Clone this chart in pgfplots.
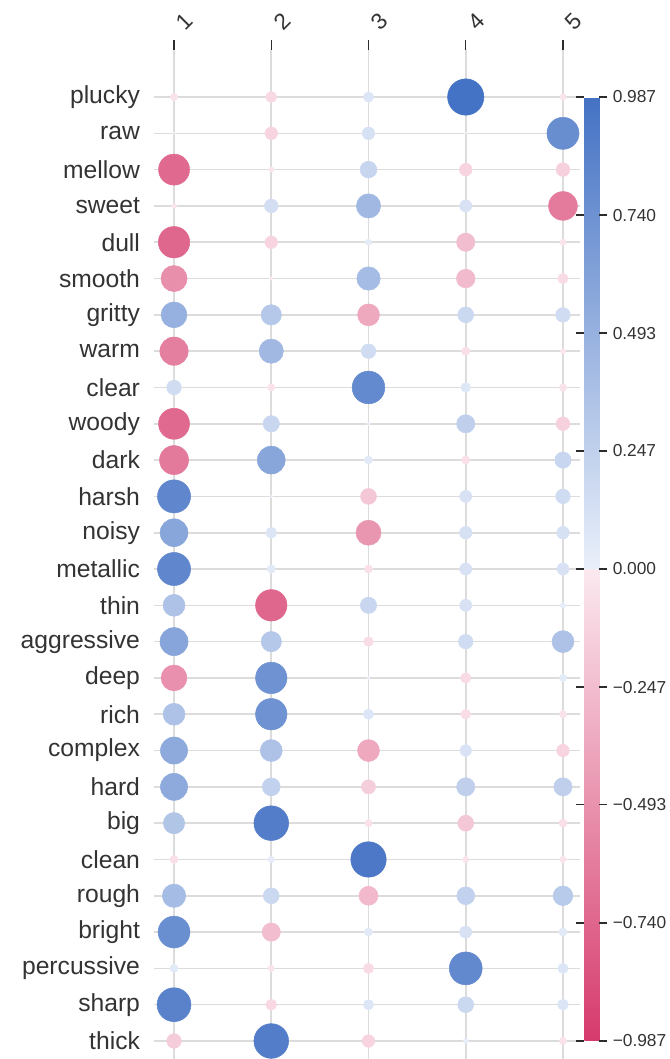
\documentclass[border=0pt]{standalone}
\usepackage{pgfplots}
\pgfplotsset{compat=1.18}
\usepackage{pgfplotstable}
\usepackage{fontspec}
\setmainfont{Liberation Sans}
\definecolor{lab}{RGB}{51,51,51}
\definecolor{gridc}{RGB}{220,220,220}
\definecolor{tickc}{RGB}{45,45,45}

\pgfplotstableread{
x y v
1 1 -0.04
2 1 -0.09
3 1 0.08
4 1 0.987
5 1 -0.03
1 2 0.003
2 2 -0.12
3 2 0.12
4 2 0.003
5 2 0.77
1 3 -0.72
2 3 -0.02
3 3 0.21
4 3 -0.12
5 3 -0.14
1 4 -0.02
2 4 0.14
3 4 0.44
4 4 0.11
5 4 -0.62
1 5 -0.74
2 5 -0.12
3 5 0.03
4 5 -0.25
5 5 -0.03
1 6 -0.51
2 6 -0.01
3 6 0.41
4 6 -0.26
5 6 -0.08
1 7 0.50
2 7 0.31
3 7 -0.36
4 7 0.19
5 7 0.16
1 8 -0.60
2 8 0.44
3 8 0.16
4 8 -0.05
5 8 -0.02
1 9 0.16
2 9 -0.04
3 9 0.80
4 9 0.07
5 9 -0.04
1 10 -0.72
2 10 0.20
3 10 0.01
4 10 0.25
5 10 -0.14
1 11 -0.63
2 11 0.58
3 11 0.05
4 11 -0.05
5 11 0.20
1 12 0.82
2 12 0.005
3 12 -0.19
4 12 0.11
5 12 0.16
1 13 0.58
2 13 0.09
3 13 -0.47
4 13 0.12
5 13 0.12
1 14 0.82
2 14 0.05
3 14 -0.05
4 14 0.11
5 14 0.11
1 15 0.36
2 15 -0.74
3 15 0.20
4 15 0.11
5 15 0.02
1 16 0.59
2 16 0.31
3 16 -0.07
4 16 0.16
5 16 0.36
1 17 -0.50
2 17 0.74
3 17 0.005
4 17 -0.08
5 17 0.04
1 18 0.36
2 18 0.74
3 18 0.08
4 18 -0.07
5 18 -0.04
1 19 0.55
2 19 0.36
3 19 -0.36
4 19 0.10
5 19 -0.12
1 20 0.55
2 20 0.24
3 20 -0.15
4 20 0.25
5 20 0.25
1 21 0.34
2 21 0.90
3 21 -0.04
4 21 -0.19
5 21 -0.05
1 22 -0.05
2 22 0.03
3 22 0.94
4 22 -0.03
5 22 -0.03
1 23 0.41
2 23 0.19
3 23 -0.27
4 23 0.24
5 23 0.29
1 24 0.76
2 24 -0.25
3 24 0.05
4 24 0.11
5 24 0.05
1 25 0.05
2 25 -0.03
3 25 -0.08
4 25 0.81
5 25 0.08
1 26 0.86
2 26 -0.09
3 26 0.08
4 26 0.19
5 26 0.09
1 27 -0.16
2 27 0.90
3 27 -0.12
4 27 0.02
5 27 -0.04
}\data

\begin{document}
\begin{tikzpicture}
\begin{axis}[
  name=main,
  scale only axis,
  width=319.5pt, height=756.75pt,
  xmin=0.794, xmax=5.175,
  ymin=-0.295, ymax=27.496,
  y dir=reverse,
  clip=false,
  axis line style={draw=none},
  xtick={1,2,3,4,5},
  xticklabels={1,2,3,4,5},
  xtick pos=right, xticklabel pos=right,
  ytick={1,...,27},
  yticklabels={plucky,raw,mellow,sweet,dull,smooth,gritty,warm,clear,woody,dark,harsh,noisy,metallic,thin,aggressive,deep,rich,complex,hard,big,clean,rough,bright,percussive,sharp,thick},
  ytick style={draw=none},
  xtick style={draw=tickc, line width=1.1pt},
  tick align=outside,
  major tick length=7.5pt,
  grid=major,
  major grid style={draw=gridc, line width=1.2pt},
  yticklabel style={font=\fontsize{18.5}{20}\selectfont, text=lab, xshift=0.5pt},
  xticklabel style={font=\fontsize{17}{18}\selectfont, text=lab, xshift=8pt, yshift=14pt, rotate=45, anchor=center},
  colormap={pb}{rgb255(0cm)=(214,58,108); rgb255(10cm)=(251,233,239); rgb255(10.01cm)=(234,240,250); rgb255(20.01cm)=(68,114,196)},
  point meta min=-0.987, point meta max=0.987,
  colorbar,
  colorbar style={
    scale only axis,
    width=11.25pt, height=708pt,
    at={(parent axis.north east)}, anchor=north west,
    xshift=-5.25pt, yshift=-35.25pt,
    y dir=normal,
    xmajorgrids=false, ymajorgrids=false,
    ytick={-0.987,-0.740,-0.493,-0.247,0,0.247,0.493,0.740,0.987},
    yticklabels={−0.987,−0.740,−0.493,−0.247,0.000,0.247,0.493,0.740,0.987},
    yticklabel style={font=\fontsize{13}{14}\selectfont, text=lab, xshift=0.5pt},
    ytick style={draw=tickc, line width=1.1pt},
    major tick length=6pt,
    tick align=outside,
    axis line style={draw=none},
    yticklabel pos=right,
  },
]
\addplot[scatter, only marks, mark=*, scatter src=explicit,
  scatter/use mapped color={draw=mapped color, fill=mapped color},
  visualization depends on={13.7*sqrt(abs(\thisrow{v})) \as \rad},
  scatter/@pre marker code/.append style={/tikz/mark size=\rad pt}]
  table[x=x, y=y, meta=v]{\data};
\end{axis}
\pgfresetboundingbox
\path[use as bounding box] ([xshift=-115.5pt,yshift=37.5pt]main.north west) rectangle ([xshift=67.5pt]main.south east);
\end{tikzpicture}
\end{document}
